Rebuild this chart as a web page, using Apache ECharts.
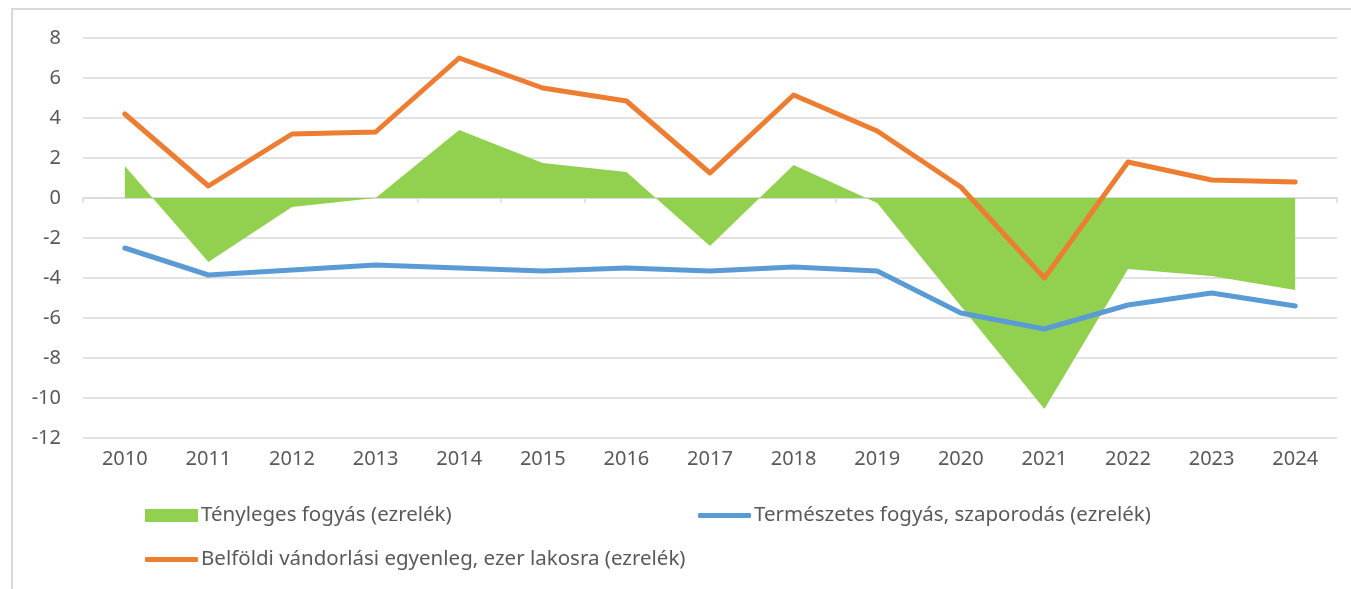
<!DOCTYPE html>
<html>
<head>
<meta charset="utf-8">
<script src="https://cdn.jsdelivr.net/npm/echarts@6/dist/echarts.min.js"></script>
<style>
  html, body { margin: 0; padding: 0; background: #fff; }
  #chart { width: 1351px; height: 589px; }
</style>
</head>
<body>
<div id="chart"></div>
<script>
const years = ['2010', '2011', '2012', '2013', '2014', '2015', '2016', '2017', '2018', '2019', '2020', '2021', '2022', '2023', '2024'];

const tenyleges = [1.6, -3.2, -0.45, 0, 3.4, 1.75, 1.3, -2.4, 1.65, -0.25, -5.4, -10.55, -3.55, -3.9, -4.6];
const termeszetes = [-2.5, -3.85, -3.6, -3.35, -3.5, -3.65, -3.5, -3.65, -3.45, -3.65, -5.75, -6.55, -5.35, -4.75, -5.4];
const belfoldi = [4.2, 0.6, 3.2, 3.3, 7.0, 5.5, 4.85, 1.25, 5.15, 3.35, 0.55, -4.0, 1.8, 0.9, 0.8];

const names = [
  'Tényleges fogyás (ezrelék)',
  'Természetes fogyás, szaporodás (ezrelék)',
  'Belföldi vándorlási egyenleg, ezer lakosra (ezrelék)'
];

const font = '"Noto Sans", sans-serif';
const textColor = '#595959';
const gridColor = '#d9d9d9';

const chart = echarts.init(document.getElementById('chart'));

// one legend per entry so each can sit where the original put it
function legendAt(name, left, top, icon, h) {
  return {
    data: [{ name: name, icon: icon }],
    left: left,
    top: top,
    itemWidth: 53,
    itemHeight: h,
    textStyle: { color: textColor, fontSize: 20.5, fontFamily: font, padding: [0, 0, 0, -2] }
  };
}

const option = {
  animation: false,
  backgroundColor: '#fff',
  graphic: [{
    type: 'rect',
    shape: { x: 12, y: 9, width: 1400, height: 700 },
    style: { fill: 'none', stroke: gridColor, lineWidth: 2 },
    silent: true
  }],
  legend: [
    legendAt(names[0], 140, 500, 'rect', 13),
    legendAt(names[1], 693, 500, 'roundRect', 5),
    legendAt(names[2], 140, 544, 'roundRect', 5)
  ],
  grid: { left: 83, right: 14, top: 38, bottom: 151 },
  xAxis: [
    {
      type: 'category',
      data: years,
      boundaryGap: true,
      axisLine: { onZero: true, lineStyle: { color: gridColor, width: 1.5 } },
      axisTick: { show: true, length: 5, lineStyle: { color: gridColor, width: 1.5 } },
      axisLabel: { show: false }
    },
    {
      type: 'category',
      data: years,
      boundaryGap: true,
      position: 'bottom',
      axisLine: { show: false },
      axisTick: { show: false },
      axisLabel: { color: textColor, fontSize: 20, fontFamily: font, margin: 11 }
    }
  ],
  yAxis: {
    type: 'value',
    min: -12,
    max: 8,
    interval: 2,
    axisLine: { show: false },
    axisTick: { show: false },
    axisLabel: { color: textColor, fontSize: 20, fontFamily: font, margin: 22 },
    splitLine: { lineStyle: { color: gridColor, width: 1.5 } }
  },
  series: [
    {
      name: names[0],
      type: 'line',
      data: tenyleges,
      symbol: 'none',
      itemStyle: { color: '#92d050' },
      lineStyle: { width: 0 },
      areaStyle: { color: '#92d050', opacity: 1 },
      z: 1
    },
    {
      name: names[1],
      type: 'line',
      data: termeszetes,
      symbol: 'none',
      itemStyle: { color: '#5b9bd5' },
      lineStyle: { color: '#5b9bd5', width: 5, cap: 'round', join: 'round' },
      z: 3
    },
    {
      name: names[2],
      type: 'line',
      data: belfoldi,
      symbol: 'none',
      itemStyle: { color: '#ed7d31' },
      lineStyle: { color: '#ed7d31', width: 5, cap: 'round', join: 'round' },
      z: 4
    }
  ]
};

chart.setOption(option);
</script>
</body>
</html>
